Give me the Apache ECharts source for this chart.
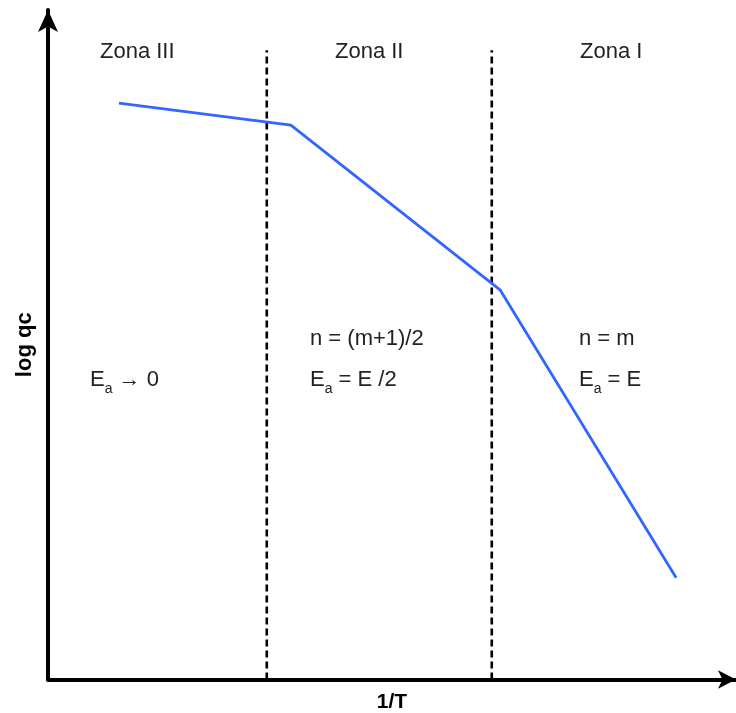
<!DOCTYPE html>
<html>
<head>
<meta charset="utf-8">
<script src="https://cdn.jsdelivr.net/npm/echarts@6/dist/echarts.min.js"></script>
<style>
  html, body { margin: 0; padding: 0; background: #fff; }
  #chart { width: 736px; height: 713px; }
</style>
</head>
<body>
<div id="chart"></div>
<script>
// Arrhenius-type plot: log qc against 1/T, three kinetic zones
const curveX = [10.3, 35.3, 65.7, 91.3];
const curveY = [86.1, 82.8, 58.2, 15.2];
const zoneBounds = [31.8, 64.5];
const boundTop = 94.0;
const zoneNames = ['Zona III', 'Zona II', 'Zona I'];
const axisNames = { x: '1/T', y: 'log qc' };

const chart = echarts.init(document.getElementById('chart'), null, { renderer: 'canvas' });

const textFont = '"Liberation Sans", Arial, sans-serif';
const ink = '#222';
const rich = {
  base: { fontFamily: textFont, fontSize: 22, color: ink, lineHeight: 24 },
  sub: { fontFamily: textFont, fontSize: 14, color: ink, lineHeight: 24, verticalAlign: 'bottom', padding: [0, 0, -4, 0] }
};

// the blue curve, then the dashed zone boundaries
const series = [
  {
    type: 'line',
    data: curveX.map((x, i) => [x, curveY[i]]),
    symbol: 'none',
    lineStyle: { color: '#3366ff', width: 2.8 },
    z: 3
  }
];
zoneBounds.forEach(b => {
  series.push({
    type: 'line',
    data: [[b, 0], [b, boundTop]],
    symbol: 'none',
    lineStyle: { color: '#000', width: 2.6, type: [7, 4] },
    z: 2
  });
});

function label(x, y, str) {
  return {
    type: 'text', left: x, top: y,
    style: { rich: rich, text: str, fill: ink, fontFamily: textFont, fontSize: 22 }
  };
}

chart.setOption({
  animation: false,
  grid: { left: 48, right: 0, top: 10, bottom: 33.5, outerBoundsMode: 'none', containLabel: false },
  xAxis: {
    type: 'value', min: 0, max: 100,
    name: axisNames.x, nameLocation: 'middle', nameGap: 12,
    nameTextStyle: { fontFamily: textFont, fontSize: 21, fontWeight: 'bold', color: '#000' },
    axisLine: { lineStyle: { color: '#000', width: 4 }, symbol: ['none', 'arrow'], symbolSize: [14, 18] },
    axisTick: { show: false }, axisLabel: { show: false }, splitLine: { show: false }
  },
  yAxis: {
    type: 'value', min: 0, max: 100,
    name: axisNames.y, nameLocation: 'middle', nameGap: 12, nameRotate: 90,
    nameTextStyle: { fontFamily: textFont, fontSize: 22, fontWeight: 'bold', color: '#000' },
    axisLine: { lineStyle: { color: '#000', width: 4 }, symbol: ['none', 'arrow'], symbolSize: [15, 22] },
    axisTick: { show: false }, axisLabel: { show: false }, splitLine: { show: false }
  },
  series: series,
  graphic: [
    label(100, 41, '{base|' + zoneNames[0] + '}'),
    label(335, 41, '{base|' + zoneNames[1] + '}'),
    label(580, 41, '{base|' + zoneNames[2] + '}'),
    label(90, 369, '{base|E}{sub|a}{base| \u2192 0}'),
    label(310, 328, '{base|n = (m+1)/2}'),
    label(310, 369, '{base|E}{sub|a}{base| = E /2}'),
    label(579, 328, '{base|n = m}'),
    label(579, 369, '{base|E}{sub|a}{base| = E}')
  ]
});
</script>
</body>
</html>
